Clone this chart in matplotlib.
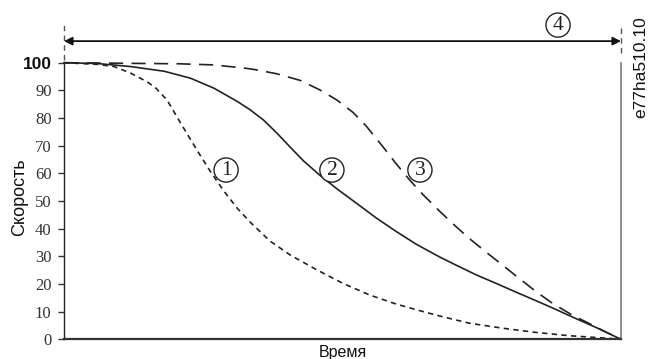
import matplotlib
matplotlib.use("Agg")
import matplotlib.pyplot as plt

# time in % of stop time, speed in %
t1 = [0, 6.0, 9.0, 12.0, 15.0, 16.5, 18.5, 20.9, 23.9, 26.3, 28.7, 31.1, 33.5, 37.0, 40.6,
      45.4, 50.1, 54.9, 59.7, 64.5, 67.5, 72.8, 78.8, 84.7, 90.7, 96.7, 100]
v1 = [100, 99.4, 98.6, 96.2, 93.0, 90.8, 86.5, 78.3, 68.3, 60.6, 53.6, 47.4, 42.2, 35.5, 30.5,
      25.1, 20.2, 16.0, 12.7, 10.0, 8.4, 5.8, 4.0, 2.5, 1.3, 0.5, 0]

t2 = [0, 6.0, 12.0, 18.0, 22.7, 26.9, 31.1, 33.4, 35.8, 38.2, 40.6, 43.0, 46.0, 49.0, 52.5,
      56.1, 59.7, 63.3, 67.5, 70.4, 74.0, 77.6, 81.2, 84.7, 88.3, 91.9, 95.5, 100]
v2 = [100, 99.7, 98.6, 96.9, 94.4, 90.8, 86.0, 83.0, 79.3, 74.6, 69.5, 64.5, 59.2, 54.4, 49.2,
      43.8, 38.9, 34.3, 29.7, 26.8, 23.3, 20.2, 17.0, 14.0, 10.8, 7.5, 4.3, 0]

t3 = [0, 20.8, 26.9, 32.6, 34.6, 38.2, 42.4, 46.0, 49.0, 51.9, 54.3, 57.3, 59.7, 62.1, 64.5,
      67.5, 69.8, 72.8, 75.8, 78.8, 81.8, 84.7, 87.7, 91.3, 94.3, 96.7, 100]
v3 = [100, 99.6, 99.2, 98.0, 97.4, 96.0, 93.6, 90.1, 86.5, 82.0, 77.0, 69.5, 63.3, 57.5, 52.2,
      46.2, 41.8, 36.4, 31.5, 26.7, 21.9, 17.3, 13.0, 8.7, 5.7, 3.2, 0]

yticks = [0, 10, 20, 30, 40, 50, 60, 70, 80, 90, 100]
labels = ["1", "2", "3", "4"]

fig = plt.figure(figsize=(6.48, 3.59), dpi=100)
ax = fig.add_axes([64/648, 1-339.3/359, (621-64)/648, (339.3-62.7)/359])
ax.set_xlim(0, 100)
ax.set_ylim(0, 100)

ax.plot(t1, v1, color="#222222", lw=1.2, dashes=(3.2, 2.6), clip_on=False)
ax.plot(t2, v2, color="#222222", lw=1.2, clip_on=False)
ax.plot(t3, v3, color="#222222", lw=1.2, dashes=(8.5, 5), clip_on=False)

ax.spines["top"].set_visible(False)
ax.spines["right"].set_color("#888888")
ax.spines["right"].set_linewidth(1.3)
ax.spines["left"].set_color("#222222")
ax.spines["left"].set_linewidth(1.0)
ax.spines["bottom"].set_color("#333333")
ax.spines["bottom"].set_linewidth(1.6)

ax.set_xticks([])
ax.set_yticks(yticks)
ax.tick_params(axis="y", direction="out", length=4, width=1, color="#333333", pad=5)
ax.set_yticklabels([str(v) for v in yticks])
for lab in ax.get_yticklabels():
    if lab.get_text() == "100":
        lab.set_fontfamily("Liberation Sans")
        lab.set_fontweight("bold")
        lab.set_fontsize(12.5)
        lab.set_color("#111111")
    else:
        lab.set_fontfamily("Liberation Serif")
        lab.set_fontsize(12)
        lab.set_color("#333333")

# top arrow
ax.annotate("", xy=(0, 107.8), xytext=(100, 107.8), xycoords="data",
            arrowprops=dict(arrowstyle="<|-|>", color="#666666", lw=1.3,
                            shrinkA=0, shrinkB=0, mutation_scale=12,
                            fc="#111111", ec="#111111"), annotation_clip=False)
ax.plot([0, 0], [101, 114.7], color="#555555", lw=1, dashes=(4, 3), clip_on=False)
ax.plot([100, 100], [103.5, 112.9], color="#555555", lw=1, dashes=(4, 3), clip_on=False)

circ = dict(boxstyle="circle,pad=0.12", fc="white", ec="#222222", lw=1.0)
pos = [(29.1, 61.2), (48.1, 61.2), (63.9, 61.2), (88.7, 113.6)]
for lab, (x, y) in zip(labels, pos):
    ax.text(x, y, lab, ha="center", va="center", family="Liberation Serif", fontsize=15.5,
            color="#222222", bbox=circ, clip_on=False)

fig.text(20/648, 1-197/359, "Скорость", rotation=90, ha="center", va="center",
         family="Liberation Sans", fontsize=13, color="#111111")
fig.text(343/648, 1-352/359, "Время", ha="center", va="center",
         family="Liberation Sans", fontsize=11.5, color="#111111")
fig.text(641/648, 1-67/359, "e77ha510.10", rotation=90, ha="center", va="center",
         family="Liberation Sans", fontsize=12.5, color="#111111")

fig.savefig("out.png", dpi=100)
